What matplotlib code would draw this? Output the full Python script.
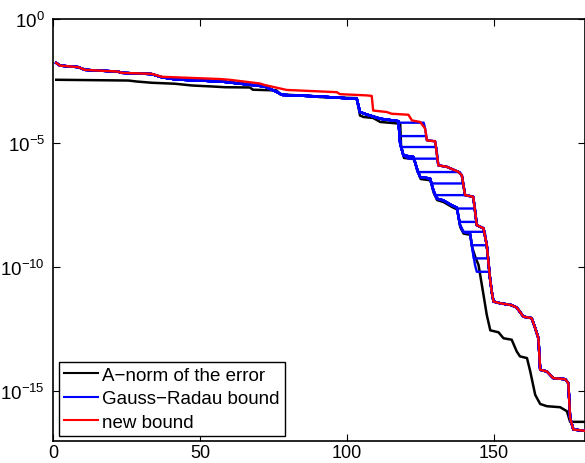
import matplotlib
matplotlib.use("Agg")
import matplotlib.pyplot as plt
from matplotlib.lines import Line2D

plt.rcParams["font.family"] = ["Liberation Sans", "DejaVu Sans"]
plt.rcParams["mathtext.fontset"] = "custom"
plt.rcParams["mathtext.rm"] = "Liberation Sans"
plt.rcParams["mathtext.it"] = "Liberation Sans"

# A-norm of the error (iteration, log10 value)
err_x = [1, 25.6, 28.4, 33.5, 41.5, 47.2, 54, 58.5, 67, 68, 76.1, 77.3, 88.6, 91, 103.4, 104.5,
         105.7, 109, 111.4, 118.2, 118.5, 119.5, 123, 124, 125.2, 128.5, 129.6, 130.8, 133, 135.9,
         137.6, 138.7, 139.8, 142.1, 142.7, 143.8, 144.9, 146.6, 147.7, 148.9, 151.7, 153.4, 156.2,
         157.9, 159, 161.4, 162.5, 164.2, 165.9, 168.2, 172.7, 175, 176.1, 181.2]
err_log = [-2.45, -2.48, -2.52, -2.57, -2.61, -2.68, -2.72, -2.75, -2.76, -2.85, -2.88, -3.04, -3.11,
           -3.15, -3.19, -3.89, -3.95, -3.99, -4.15, -4.22, -5.1, -5.6, -5.65, -6.1, -6.45, -6.5, -7.0,
           -7.3, -7.38, -7.58, -7.68, -8.4, -8.65, -8.7, -9.2, -9.6, -9.92, -11.13, -11.93, -12.55,
           -12.63, -12.87, -12.93, -13.4, -13.6, -13.67, -14.2, -15.15, -15.52, -15.61, -15.65, -15.81,
           -16.24, -16.24]

# new bound
new_x = [1, 2.3, 8.5, 10.8, 22, 23.3, 33.5, 37, 56.8, 60, 70.4, 72, 79.5, 96.6, 97.7, 106.8, 108.5,
         109, 113.6, 115.3, 121, 122.2, 125, 126.7, 127.3, 130.1, 131.2, 134.1, 138, 139.2, 140.3,
         143.1, 144.3, 146.6, 147.7, 148.8, 149.4, 150, 152.3, 156, 157.9, 160.2, 163, 164.2, 165.3,
         165.9, 168.2, 170.4, 174.4, 175.5, 176.1, 177.2, 181.2]
new_log = [-1.77, -1.88, -1.94, -2.05, -2.12, -2.17, -2.21, -2.33, -2.42, -2.45, -2.6, -2.66, -2.86,
           -2.95, -3.03, -3.08, -3.1, -3.69, -3.75, -3.82, -3.86, -4.09, -4.15, -4.42, -4.89, -4.93,
           -5.9, -5.96, -6.16, -6.3, -7.1, -7.17, -8.31, -8.44, -9.12, -10.45, -11.0, -11.39, -11.46,
           -11.53, -11.63, -12.0, -12.06, -12.46, -12.87, -14.14, -14.21, -14.48, -14.52, -14.68,
           -16.08, -16.55, -16.6]

# Gauss-Radau bounds: common lower path, then a flat rung up to the new bound
gr_x = [1, 2.3, 8.5, 10.8, 22, 23.3, 33.5, 37, 42, 50, 58, 67, 72, 76, 78, 90, 103.4, 104.5, 106.8,
        111.4, 117.6, 118.2, 119.3, 122.7, 123.9, 125, 128.4, 129.5, 130.7, 132.9, 135.8, 137.5,
        138.6, 139.7, 142, 142.6, 143.7, 144.3]
gr_log = [-1.77, -1.88, -1.94, -2.05, -2.12, -2.17, -2.22, -2.35, -2.44, -2.48, -2.53, -2.65, -2.72,
          -2.93, -3.06, -3.12, -3.22, -3.75, -3.85, -4.02, -4.12, -5.03, -5.5, -5.56, -6.03, -6.37,
          -6.43, -6.9, -7.24, -7.31, -7.51, -7.6, -8.31, -8.58, -8.64, -9.12, -9.92, -10.19]
rung_log = [-4.18, -4.72, -5.16, -5.63, -6.17, -6.63, -7.1, -7.64, -8.18, -8.58, -9.12, -9.65, -10.19]
rung_start = [118.0, 118.1, 118.5, 121.0, 124.1, 128.8, 130.0, 137.8, 138.4, 139.7, 142.6, 143.3, 144.3]
rung_end = [126.2, 127.0, 130.5, 130.8, 138.5, 139.7, 141.0, 143.7, 144.2, 147.0, 147.7, 148.2, 148.6]

fig = plt.figure(figsize=(5.85, 4.64), dpi=100)
ax = fig.add_axes([53.3 / 585, 1 - 441.7 / 464, (584.5 - 53.3) / 585, (441.7 - 20) / 464])

ax.plot(err_x, [10 ** v for v in err_log], color="black", lw=1.8, zorder=2)

for lvl, xs, xe in zip(rung_log, rung_start, rung_end):
    bx = [x for x in gr_x if x < xs] + [xs, xe] + [x for x in new_x if x > xe]
    by = ([v for x, v in zip(gr_x, gr_log) if x < xs] + [lvl, lvl]
          + [v for x, v in zip(new_x, new_log) if x > xe])
    ax.plot(bx, [10 ** v for v in by], color="blue", lw=1.7, zorder=3)

ax.plot(new_x, [10 ** v for v in new_log], color="red", lw=1.7, zorder=4)

ax.set_yscale("log")
ax.set_xlim(0, 181)
ax.set_ylim(1e-17, 1e0)
ax.set_xticks([0, 50, 100, 150])
ax.set_yticks([1e0, 1e-5, 1e-10, 1e-15])
ax.set_yticklabels([r"$10^{0}$", r"$10^{-5}$", r"$10^{-10}$", r"$10^{-15}$"])
ax.minorticks_off()
ax.tick_params(direction="in", length=5, width=0.8, top=True, right=True, labelsize=13.5)
ax.tick_params(axis="y", pad=6)
ax.tick_params(axis="x", pad=2.5, labelsize=13)
for s in ax.spines.values():
    s.set_linewidth(1.2)

handles = [Line2D([], [], color="black", lw=1.5), Line2D([], [], color="blue", lw=1.5),
           Line2D([], [], color="red", lw=1.5)]
leg = ax.legend(handles, ["A\u2212norm of the error", "Gauss\u2212Radau bound", "new bound"],
                loc="lower left", bbox_to_anchor=(0.01, 0.012), fontsize=13.5, fancybox=False,
                framealpha=1, edgecolor="black", borderaxespad=0, handlelength=1.85,
                handletextpad=0.22, labelspacing=0.33, borderpad=0.27)
leg.get_frame().set_linewidth(1.0)

fig.savefig("out.png", dpi=100)
